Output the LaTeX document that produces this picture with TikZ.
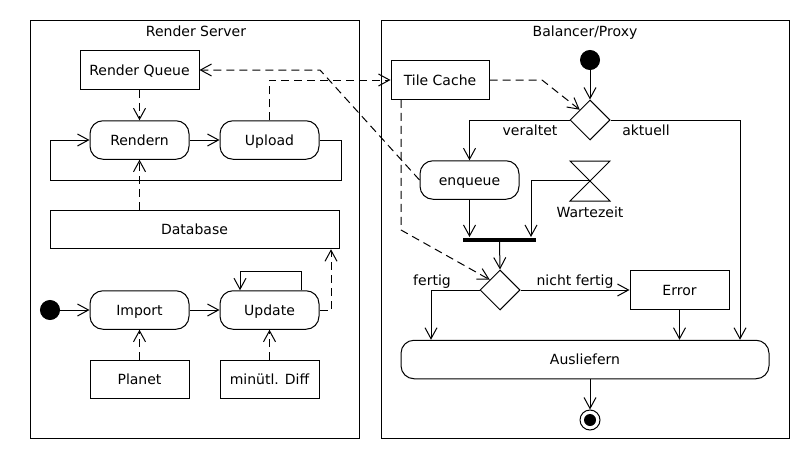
\documentclass[tikz,border=0pt]{standalone}
\usepackage{fontspec}
\setmainfont{DejaVu Sans}
\usetikzlibrary{arrows.meta,shapes.geometric}
\begin{document}
\begin{tikzpicture}[x=1pt,y=-1pt,
  line width=1pt,
  >={Straight Barb[length=11pt,width=12pt]},
  every node/.style={font=\fontsize{14}{16}\selectfont, inner sep=0pt},
  txt/.style={text height=11pt, text depth=1pt},
  box/.style={txt, draw, rectangle, minimum height=38.5pt},
  act/.style={txt, draw, rectangle, rounded corners=13pt, minimum height=38.5pt},
  cont/.style={draw, rectangle},
  dec/.style={draw, diamond, minimum width=40pt, minimum height=40pt},
  arr/.style={->},
  darr/.style={->, dash pattern=on 8pt off 5pt}
]
\useasboundingbox (0,0) rectangle (810,460);
% containers
\node[cont, minimum width=329pt, minimum height=418pt] (left) at (195,229.5) {};
\node[cont, minimum width=408pt, minimum height=418pt] (right) at (585,229.5) {};
\node[txt] (lt) at (196,32) {Render Server};
\node[txt] (rt) at (585,32) {Balancer/Proxy};
% left side nodes
\node[box, minimum width=119pt] (rq) at (139.5,70) {Render Queue};
\node[act, minimum width=99pt] (rendern) at (139.5,140) {Rendern};
\node[act, minimum width=99pt] (upload) at (269.5,140) {Upload};
\node[box, minimum width=289pt] (db) at (194.5,229.5) {Database};
\node[draw, circle, fill=black, minimum size=19pt] (start1) at (50,310) {};
\node[act, minimum width=99pt] (import) at (139.5,310) {Import};
\node[act, minimum width=99pt] (update) at (269.5,310) {Update};
\node[box, minimum width=99pt] (planet) at (139.5,379.5) {Planet};
\node[box, minimum width=99pt] (diff) at (269.5,379.5) {minütl. Diff};
% right side nodes
\node[box, minimum width=98pt] (tile) at (440,80) {Tile Cache};
\node[draw, circle, fill=black, minimum size=19pt] (start2) at (590,60) {};
\node[dec] (dec1) at (590,120) {};
\node[act, minimum width=99pt] (enq) at (469.5,180) {enqueue};
\coordinate (wait) at (590,180);
\draw (570,161) -- (610,161) -- (570,201) -- (610,201) -- cycle;
\node[txt] (waitl) at (590,212) {Wartezeit};
\node[fill=black, minimum width=73pt, minimum height=4pt] (bar) at (499.5,239.5) {};
\node[dec] (dec2) at (500,290) {};
\node[box, minimum width=99pt] (err) at (679.5,290) {Error};
\node[act, minimum width=368pt] (ausl) at (585,359.5) {Ausliefern};
\node[draw, circle, minimum size=20pt] (end) at (590,420) {};
\node[circle, fill=black, minimum size=12pt] (endin) at (590,420) {};
% left connectors
\draw[darr] (rq.south) -- (rendern.north);
\draw[arr] (rendern.east) -- (upload.west);
\draw[arr] (upload.east) -- (341,140) -- (341,180) -- (50,180) -- (50,140) -- (rendern.west);
\draw[darr] (db.north -| rendern.south) -- (rendern.south);
\draw[arr] (start1.east) -- (import.west);
\draw[arr] (import.east) -- (update.west);
\draw[darr] (planet.north) -- (import.south);
\draw[darr] (diff.north) -- (update.south);
\draw[arr] (update.north -| 301,0) -- (301,271) -- (240,271) -- (update.north -| 240,0);
\draw[darr] (update.east) -- (331,310) -- (db.south -| 331,0);
% cross connectors
\draw[darr] (upload.north) |- (tile.west);
\draw[darr] (enq.west) -- (320,70) -- (rq.east);
\draw[darr] (tile.east) -- (542,80) -- (dec1.north west);
\draw[darr] (tile.south -| 401,0) -- (401,230) -- (dec2.north west);
% right connectors
\draw[arr] (start2.south) -- (dec1.north);
\draw[arr] (dec1.west) -| (enq.north);
\node[txt] (veraltet) at (530,130) {veraltet};
\draw[arr] (dec1.east) -| (ausl.north -| 740,0);
\node[txt] (aktuell) at (646,130) {aktuell};
\draw[arr] (enq.south) -- (enq.south |- bar.north);
\draw[arr] (wait) -- (531,180) -- (bar.north -| 531,0);
\draw[arr] (bar.south) -- (dec2.north);
\draw[arr] (dec2.west) -| (ausl.north -| 431,0);
\node[txt] (fertig) at (432,280) {fertig};
\draw[arr] (dec2.east) -- (err.west);
\node[txt] (nf) at (575,280) {nicht fertig};
\draw[arr] (err.south) -- (ausl.north -| err.south);
\draw[arr] (ausl.south -| end.north) -- (end.north);
\end{tikzpicture}
\end{document}
